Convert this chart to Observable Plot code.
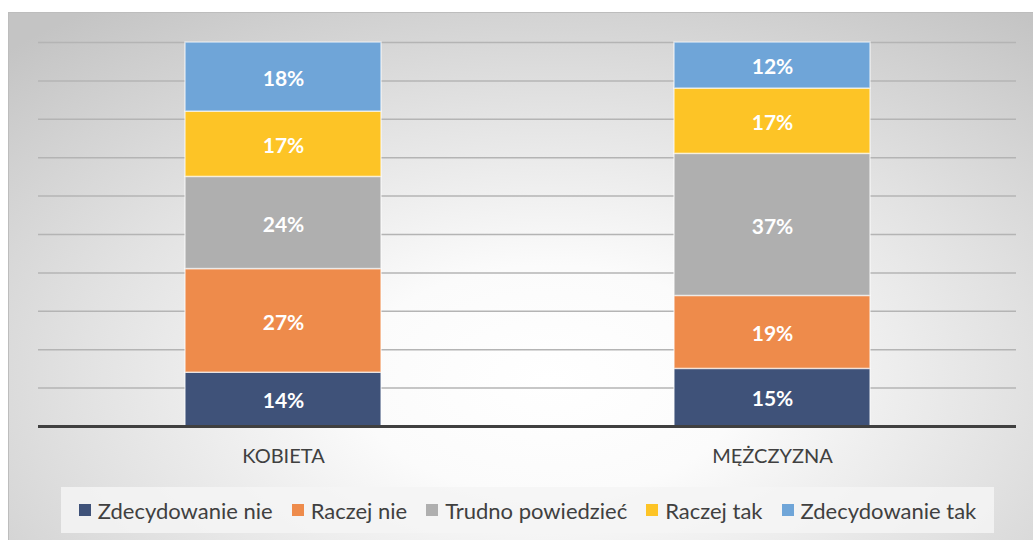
<!DOCTYPE html>
<html>
<head>
<meta charset="utf-8">
<script src="https://cdn.jsdelivr.net/npm/d3@7"></script>
<script src="https://cdn.jsdelivr.net/npm/@observablehq/plot@0.6"></script>
<style>
  html, body { margin: 0; padding: 0; background: #fff; }
  #wrap { position: relative; width: 1033px; height: 540px; overflow: hidden; font-family: Lato, "Open Sans", sans-serif; }
  #bg { position: absolute; left: 8px; top: 12px; width: 1040px; height: 540px;
        border-top: 1.5px solid #bdbdbd; border-left: 1.5px solid #bdbdbd;
        background: radial-gradient(ellipse 75% 85% at 52% 68%, #ffffff 0%, #fbfbfb 25%, #e2e2e2 60%, #c4c4c4 100%); }
  #chart { position: absolute; left: 0; top: 0; }
  #legend { position: absolute; left: 61px; top: 487px; width: 933px; height: 46px;
            background: rgba(244,244,244,0.85); display: flex; align-items: center; justify-content: center;
            gap: 19px; font-size: 22px; color: #404040; }
  .item { display: flex; align-items: center; gap: 7px; white-space: nowrap; }
  .sw { width: 12px; height: 12px; display: inline-block; }
</style>
</head>
<body>
<div id="wrap">
  <div id="bg"></div>
  <div id="chart"></div>
  <div id="legend"></div>
</div>
<script>
const categories = ["KOBIETA", "MĘŻCZYZNA"];
const seriesNames = ["Zdecydowanie nie", "Raczej nie", "Trudno powiedzieć", "Raczej tak", "Zdecydowanie tak"];
const kobieta = [14, 27, 24, 17, 18];
const mezczyzna = [15, 19, 37, 17, 12];
const colors = ["#3f5279", "#ee8b4b", "#afafaf", "#fdc426", "#6fa5d8"];
const gridTicks = [10, 20, 30, 40, 50, 60, 70, 80, 90, 100];

const values = [kobieta, mezczyzna];
const data = [];
categories.forEach((c, ci) => {
  seriesNames.forEach((s, si) => data.push({cat: c, series: s, value: values[ci][si]}));
});

const plot = Plot.plot({
  width: 1033,
  height: 475,
  marginLeft: 38,
  marginRight: 17,
  marginTop: 42,
  marginBottom: 49,
  style: { background: "transparent", fontFamily: "Lato, 'Open Sans', sans-serif", color: "#404040" },
  x: { domain: categories, paddingInner: 0.6, paddingOuter: 0.3, label: null },
  y: { domain: [0, 100], axis: null },
  color: { domain: seriesNames, range: colors },
  marks: [
    Plot.ruleY(gridTicks, { stroke: "#b4b4b4", strokeWidth: 1.5 }),
    Plot.barY(data, { x: "cat", y: "value", fill: "series", stroke: "rgba(255,255,255,0.6)", strokeWidth: 1.5 }),
    Plot.text(data, Plot.stackY({ x: "cat", y: "value", z: "series", text: d => d.value + "%",
      fill: "white", fontWeight: "bold", fontSize: 21, dy: 2 })),
    Plot.ruleY([0], { stroke: "#404040", strokeWidth: 3 }),
    Plot.axisX({ tickSize: 0, tickPadding: 22, fontSize: 20, fill: "#404040", label: null })
  ]
});
document.getElementById("chart").appendChild(plot);

const legend = document.getElementById("legend");
seriesNames.forEach((s, i) => {
  const it = document.createElement("div");
  it.className = "item";
  const sw = document.createElement("span");
  sw.className = "sw";
  sw.style.background = colors[i];
  const t = document.createElement("span");
  t.textContent = s;
  it.appendChild(sw); it.appendChild(t);
  legend.appendChild(it);
});
</script>
</body>
</html>
